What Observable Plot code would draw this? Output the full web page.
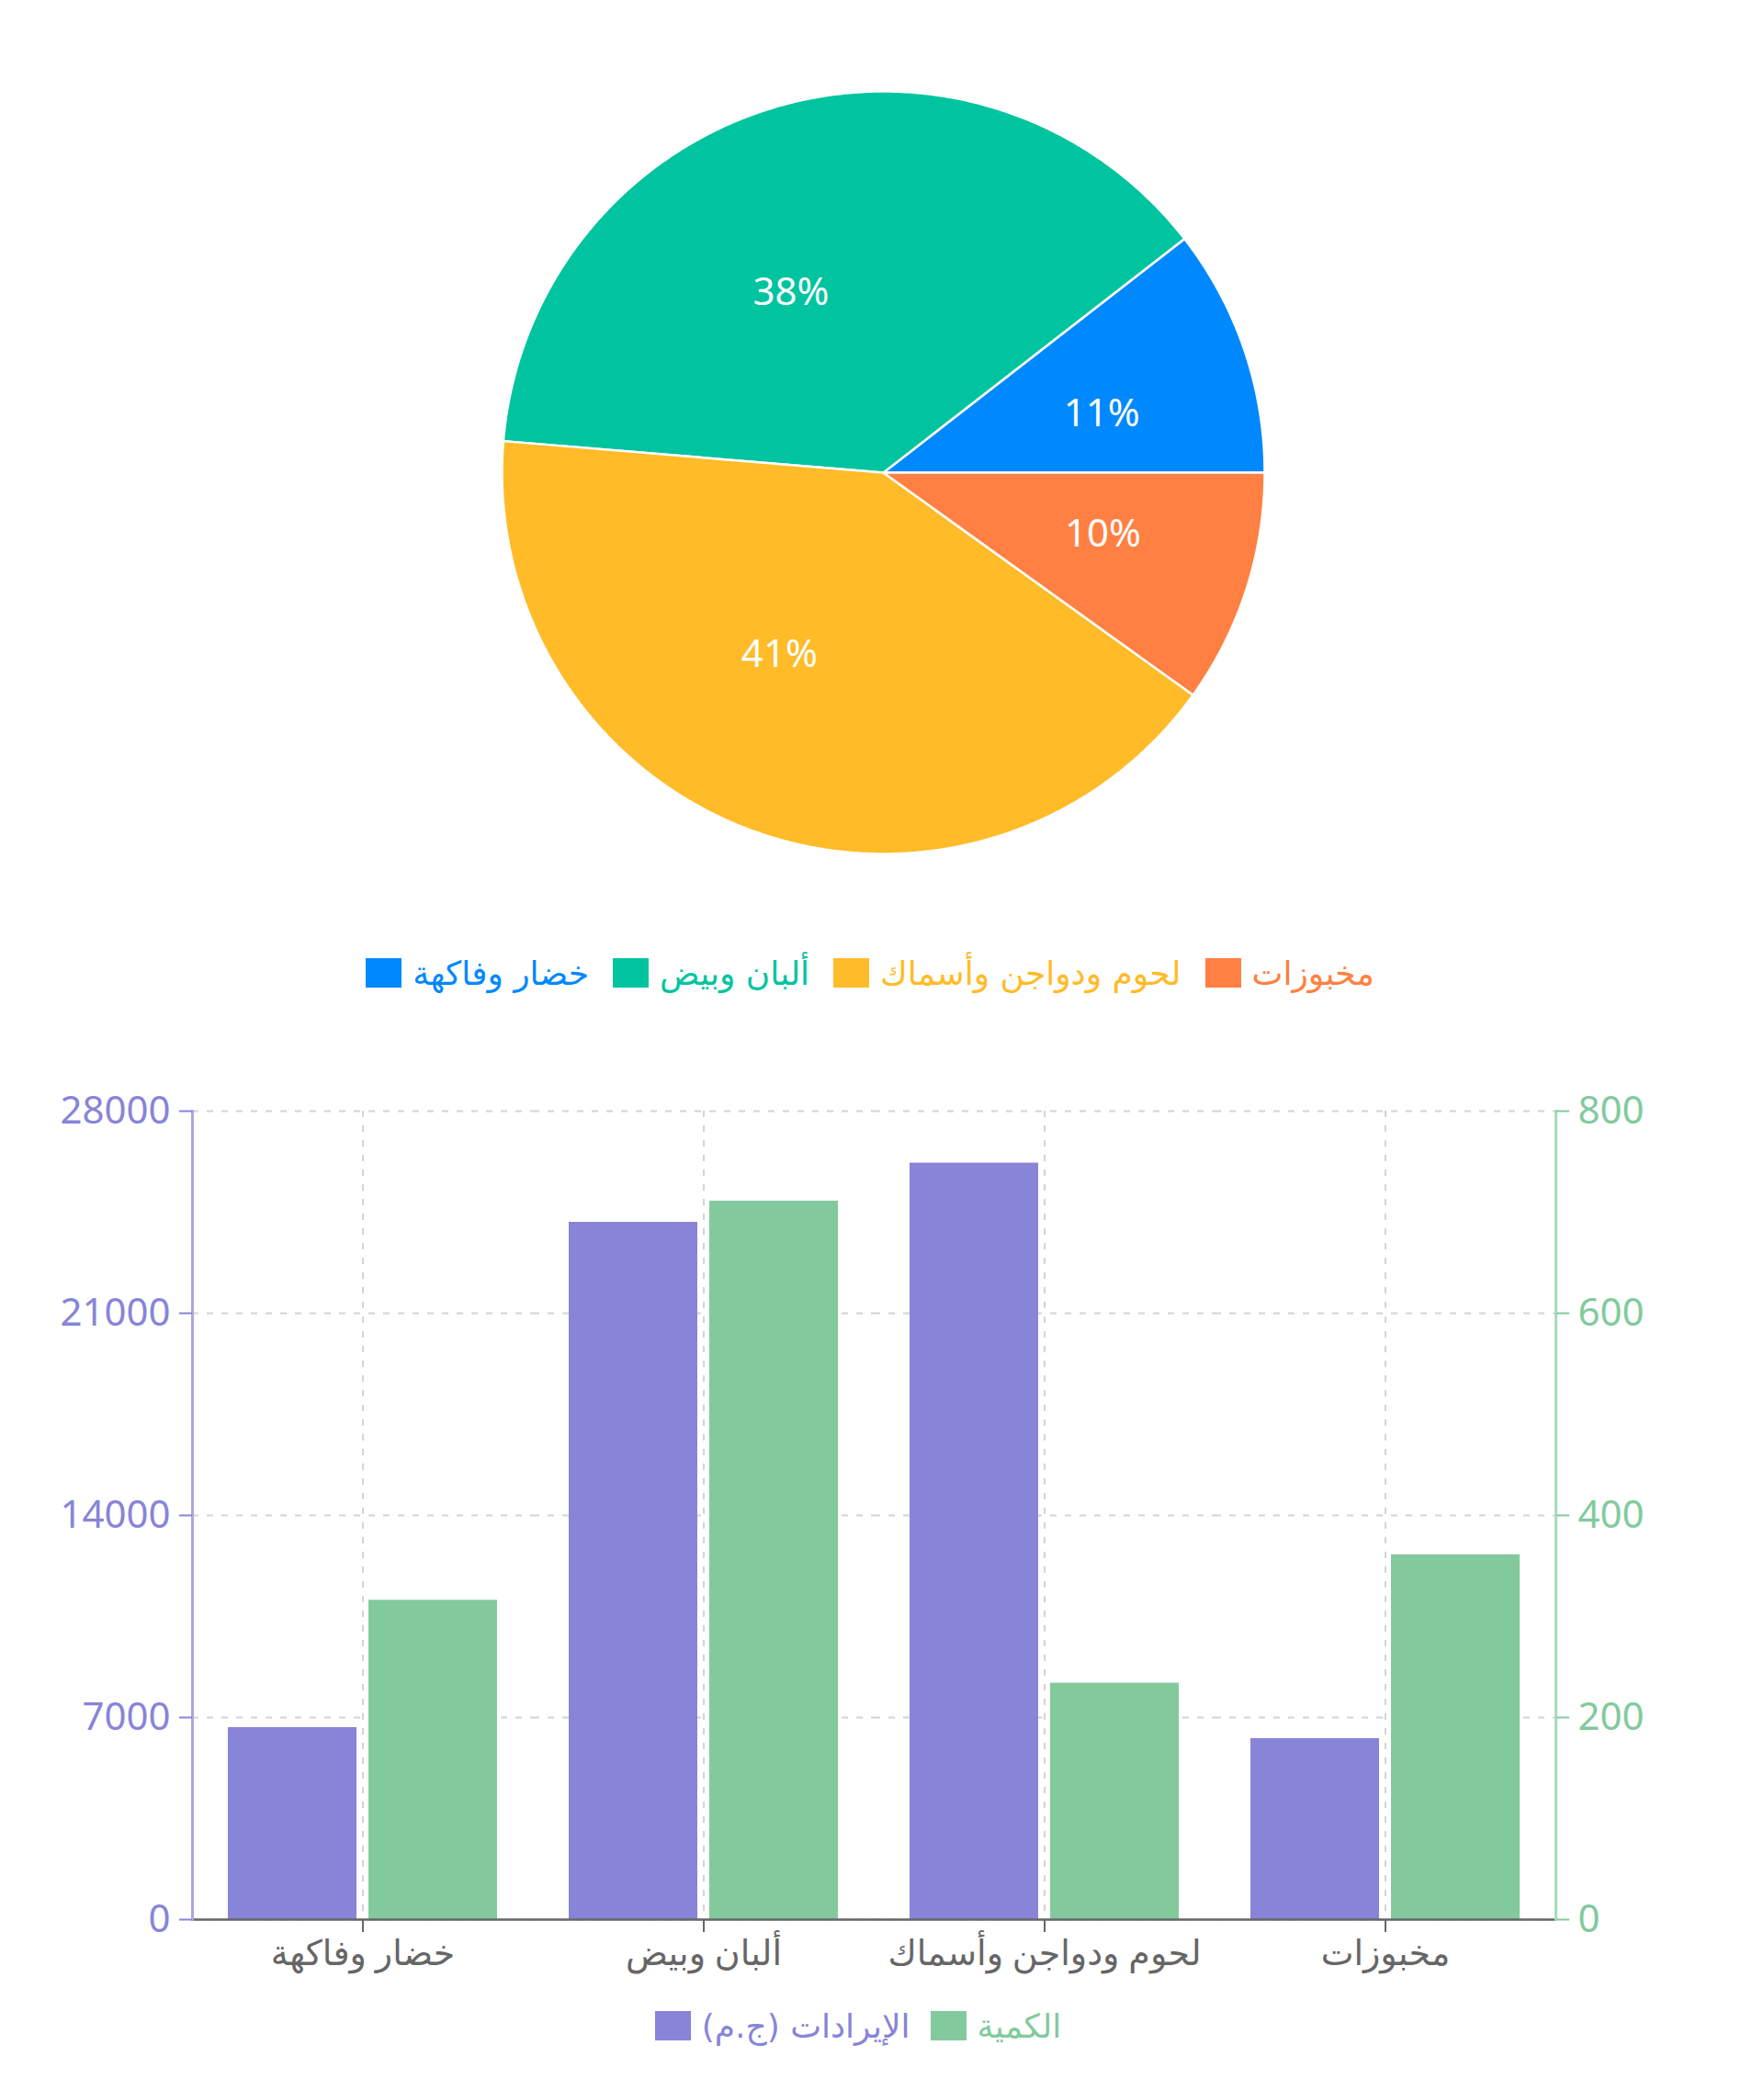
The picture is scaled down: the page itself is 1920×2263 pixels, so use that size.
<!DOCTYPE html>
<html><head><meta charset="utf-8">
<script src="https://cdn.jsdelivr.net/npm/d3@7"></script>
<script src="https://cdn.jsdelivr.net/npm/@observablehq/plot@0.6"></script>
<style>
body{margin:0;background:#fff;width:1920px;height:2263px;position:relative;overflow:hidden;font-family:"Noto Sans","DejaVu Sans",sans-serif;}
.abs{position:absolute;}
.legend{position:absolute;display:flex;justify-content:center;align-items:center;font-size:36px;font-family:"DejaVu Sans",sans-serif;}
.item{display:flex;align-items:center;margin:0 13px;}
#leg2 .item{margin:0 11px;}
.sw{width:39px;height:32px;margin-right:12px;}
</style></head><body>
<div id="pie" class="abs" style="left:0;top:0"></div>
<div id="leg1" class="legend" style="left:0;width:1894px;top:1030px;height:58px"></div>
<div id="bar" class="abs" style="left:0;top:1150px"></div>
<div id="leg2" class="legend" style="left:0;width:1868px;top:2176px;height:58px"></div>
<script>
const categories = ["خضار وفاكهة","ألبان وبيض","لحوم ودواجن وأسماك","مخبوزات"];
const revenue = [6650, 24150, 26200, 6270];
const quantity = [316, 711, 234, 361];
const pieColors = ["#0088FE","#00C49F","#FFBB28","#FF8042"];
const seriesNames = ["الإيرادات (ج.م)","الكمية"];
const seriesKeys = ["rev","qty"];
const seriesColors = ["#8884d8","#82ca9d"];
const revenueTicks = [0,7000,14000,21000,28000];
const quantityTicks = [0,200,400,600,800];

// ---------- Pie ----------
const W = 1920, H = 1000, cx = 961, cy = 514, R = 415;
const total = d3.sum(revenue);
const arcs = d3.pie().sort(null)(revenue);
const pts = [];
const labs = [];
arcs.forEach((a, i) => {
  pts.push({k: i, c: pieColors[i], x: 0, y: 0});
  const n = Math.max(2, Math.ceil((a.endAngle - a.startAngle) / (Math.PI / 360)));
  for (let j = 0; j <= n; j++) {
    const t = a.startAngle + (a.endAngle - a.startAngle) * j / n;
    pts.push({k: i, c: pieColors[i], x: Math.cos(t), y: Math.sin(t)});
  }
  const m = (a.startAngle + a.endAngle) / 2;
  labs.push({x: 0.5 * Math.cos(m), y: 0.5 * Math.sin(m), t: Math.round(revenue[i] / total * 100) + "%"});
});
const pie = Plot.plot({
  width: W, height: H, margin: 0,
  x: {domain: [-cx / R, (W - cx) / R], axis: null},
  y: {domain: [-(H - cy) / R, cy / R], axis: null},
  marks: [
    Plot.line(pts, {x: "x", y: "y", z: "k", fill: "c", stroke: "#fff", strokeWidth: 2.5, curve: "linear-closed"}),
    Plot.text(labs.filter(d => d.x > 0), {x: "x", y: "y", text: "t", textAnchor: "start", fill: "#fff", fontSize: 42, dy: 3}),
    Plot.text(labs.filter(d => d.x <= 0), {x: "x", y: "y", text: "t", textAnchor: "end", fill: "#fff", fontSize: 42, dy: 3})
  ]
});
document.getElementById("pie").appendChild(pie);

// ---------- Legends ----------
function legend(el, names, colors) {
  names.forEach((n, i) => {
    const it = document.createElement("div"); it.className = "item";
    const sw = document.createElement("div"); sw.className = "sw"; sw.style.background = colors[i];
    const tx = document.createElement("span"); tx.textContent = n; tx.style.color = colors[i];
    it.appendChild(sw); it.appendChild(tx); el.appendChild(it);
  });
}
legend(document.getElementById("leg1"), categories, pieColors);
legend(document.getElementById("leg2"), seriesNames, seriesColors);

// ---------- Bars ----------
const k = revenueTicks[revenueTicks.length - 1] / quantityTicks[quantityTicks.length - 1];
const rows = categories.flatMap((c, i) => [
  {cat: c, s: "rev", v: revenue[i], color: seriesColors[0]},
  {cat: c, s: "qty", v: quantity[i] * k, color: seriesColors[1]}
]);
const grid = {stroke: "#d4d4d4", strokeOpacity: 1, strokeDasharray: "7 9", strokeWidth: 2};
const bar = Plot.plot({
  width: 1920, height: 1020,
  marginLeft: 207, marginRight: 226, marginTop: 59, marginBottom: 81,
  style: {fontFamily: "'Noto Sans','DejaVu Sans',sans-serif"},
  fx: {domain: categories, padding: 0, label: null},
  x: {domain: seriesKeys, paddingInner: 0.085, paddingOuter: 0.25, axis: null},
  y: {domain: [0, 28000], axis: null},
  marks: [
    Plot.gridY(revenueTicks, grid),
    Plot.gridFx(grid),
    Plot.barY(rows, {fx: "cat", x: "s", y: "v", fill: "color"}),
    Plot.ruleY([0], {stroke: "#666", strokeWidth: 2.5}),
    Plot.frame({anchor: "left", stroke: "#a9a6e3", strokeWidth: 3, facetAnchor: "left"}),
    Plot.frame({anchor: "right", stroke: "#a6dcbc", strokeWidth: 3, facetAnchor: "right"}),
    Plot.axisY(revenueTicks, {anchor: "left", color: "#8884d8", tickSize: 14, tickPadding: 10, fontSize: 42, label: null, strokeWidth: 2, tickFormat: d => String(d)}),
    Plot.axisY(quantityTicks.map(t => t * k), {anchor: "right", color: "#82ca9d", tickSize: 14, tickPadding: 10, fontSize: 42, label: null, strokeWidth: 2, tickFormat: d => String(Math.round(d / k))}),
    Plot.axisFx({anchor: "bottom", color: "#666", tickSize: 14, tickPadding: 9, fontSize: 38, label: null, strokeWidth: 2})
  ]
});
document.getElementById("bar").appendChild(bar);
</script>
</body></html>
